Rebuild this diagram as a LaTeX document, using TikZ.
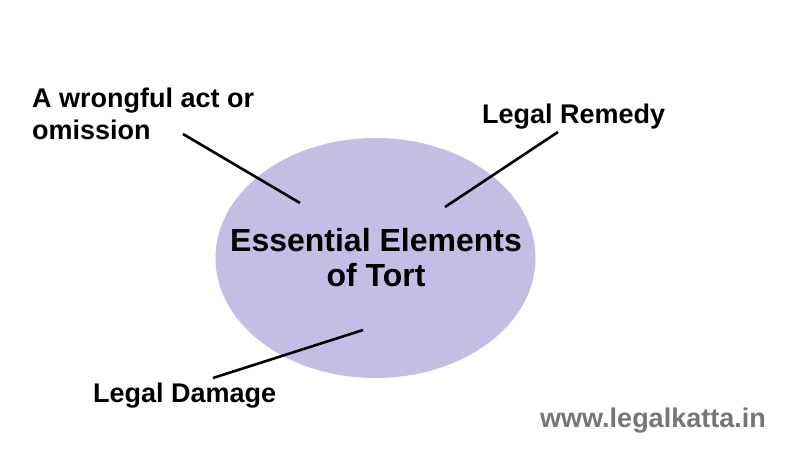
\documentclass[tikz,border=0pt]{standalone}
\usepackage{fontspec}
\setmainfont{Liberation Sans}
\definecolor{lavender}{RGB}{196,190,228}
\definecolor{webgray}{RGB}{118,118,118}
\begin{document}
\begin{tikzpicture}[x=1pt, y=-1pt,
  label/.style={inner sep=0pt, anchor=base west, font=\fontsize{27}{32}\selectfont\bfseries},
  pointer/.style={line width=2.6pt, black}]
\useasboundingbox[fill=white] (0,0) rectangle (800,450);
\fill[lavender] (375.5,258) ellipse [x radius=160, y radius=120];
\node[inner sep=0pt, align=center, font=\fontsize{32}{35}\selectfont\bfseries] (tort) at (376,258) {Essential Elements\\of Tort};
\node[label, align=left] (wrong) at (32,139) {A wrongful act or\\omission};
\node[label] (remedy) at (482,123) {Legal Remedy};
\node[label] (damage) at (93,402) {Legal Damage};
\node[label, text=webgray, font=\fontsize{27}{30}\selectfont\bfseries] (site) at (540,427) {www.legalkatta.in};
\coordinate (wrongA) at (183,134);
\coordinate (wrongB) at (300,203);
\coordinate (remedyA) at (558,132);
\coordinate (remedyB) at (445,207);
\coordinate (damageA) at (213,378);
\coordinate (damageB) at (363,330);
\draw[pointer] (wrongA) -- (wrongB);
\draw[pointer] (remedyA) -- (remedyB);
\draw[pointer] (damageA) -- (damageB);
\end{tikzpicture}
\end{document}
